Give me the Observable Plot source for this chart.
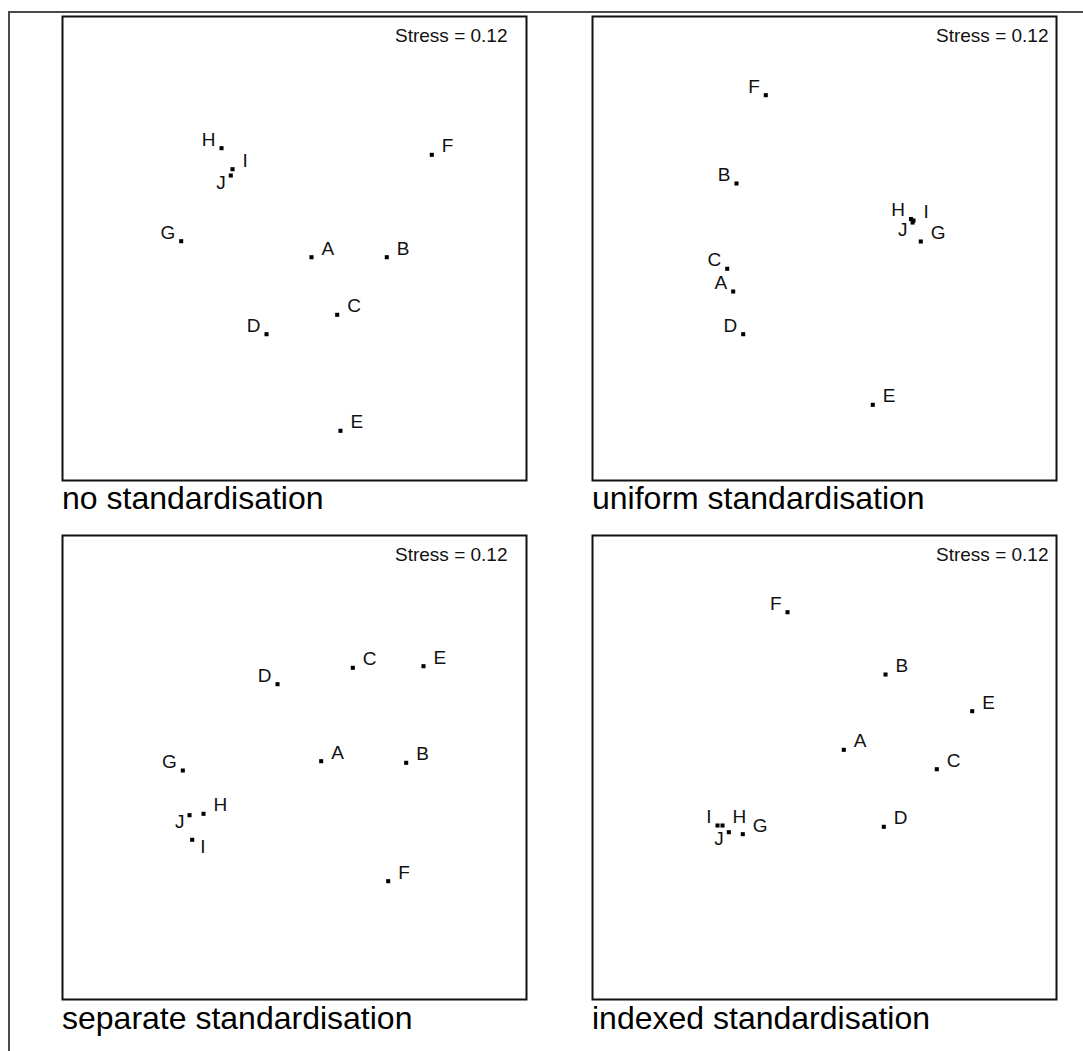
<!DOCTYPE html>
<html>
<head>
<meta charset="utf-8">
<script src="https://cdn.jsdelivr.net/npm/d3@7"></script>
<script src="https://cdn.jsdelivr.net/npm/@observablehq/plot@0.6"></script>
<style>
  html, body { margin: 0; padding: 0; background: #fff; }
  #page { position: relative; width: 1083px; height: 1051px; overflow: hidden; background: #fff;
          font-family: "Liberation Sans", Arial, sans-serif; }
  #outer { position: absolute; left: 8px; top: 11px; right: -10px; bottom: -10px;
           border-top: 2px solid #4a4a4a; border-left: 2px solid #4a4a4a; }
  .panel { position: absolute; }
  .caption { position: absolute; font-size: 32px; line-height: 1; color: #000; white-space: nowrap; }
</style>
</head>
<body>
<div id="page"><div id="outer"></div></div>
<script>
// ---- data (MDS ordination coordinates; 0–100 plot units) ----
const sites = ["A","B","C","D","E","F","G","H","I","J"];

const panelTitles = ["no standardisation", "uniform standardisation", "separate standardisation", "indexed standardisation"];
const stressValues = [0.12, 0.12, 0.12, 0.12];

// no standardisation
const noStdX = [53.66, 69.89, 59.20, 43.97, 59.91, 79.59, 25.58, 34.27, 36.64, 36.27];
const noStdY = [48.12, 48.12, 35.71, 31.53, 10.71, 70.19, 51.57, 71.62, 67.09, 65.73];
const noStdSide = ["ne","ne","ne","nw","ne","ne","nw","nw","ne","sw"];

// uniform standardisation
const uniformX = [30.32, 31.03, 29.03, 32.48, 60.41, 37.35, 70.75, 68.64, 69.18, 68.97];
const uniformY = [40.73, 64.01, 45.63, 31.53, 16.31, 83.04, 51.51, 56.36, 56.03, 55.60];
const uniformSide = ["nw","nw","nw","nw","ne","nw","ne","nw","ne","sw"];

// separate standardisation
const separateX = [55.75, 74.07, 62.57, 46.34, 77.80, 70.19, 25.93, 30.39, 27.95, 27.37];
const separateY = [51.36, 51.01, 71.49, 67.95, 71.83, 25.50, 49.35, 40.02, 34.42, 39.72];
const separateSide = ["ne","ne","ne","nw","ne","ne","nw","ne","se","sw"];

// indexed standardisation
const indexedX = [54.16, 63.15, 74.20, 62.78, 81.83, 42.03, 32.39, 28.02, 26.94, 29.38];
const indexedY = [53.81, 70.04, 49.63, 37.22, 62.13, 83.47, 35.63, 37.50, 37.50, 36.06];
const indexedSide = ["ne","ne","ne","ne","ne","nw","ne","ne","nw","sw"];

// ---- layout ----
const FONT = "'Liberation Sans', Arial, sans-serif";
const SIZE = 464, M = 2;
const panels = [
  {xs: noStdX,    ys: noStdY,    sides: noStdSide,    left: 62,  top: 15.5, stressInset: 19},
  {xs: uniformX,  ys: uniformY,  sides: uniformSide,  left: 592, top: 15.5, stressInset: 8},
  {xs: separateX, ys: separateY, sides: separateSide, left: 62,  top: 535,  stressInset: 19},
  {xs: indexedX,  ys: indexedY,  sides: indexedSide,  left: 592, top: 535,  stressInset: 8}
];

const sideStyle = {
  ne: {textAnchor: "start", dx: 10, dy: -2.5},
  nw: {textAnchor: "end",   dx: -6, dy: -2.5},
  sw: {textAnchor: "end",   dx: -5, dy: 13},
  se: {textAnchor: "start", dx: 8,  dy: 13}
};

const page = document.getElementById("page");

panels.forEach((p, i) => {
  const rows = sites.map((s, j) => ({label: s, x: p.xs[j], y: p.ys[j], side: p.sides[j]}));
  const labelMarks = Object.keys(sideStyle).map(k =>
    Plot.text(rows.filter(d => d.side === k), {
      x: "x", y: "y", text: "label", lineAnchor: "bottom",
      fontSize: 19, fill: "#111", ...sideStyle[k]
    })
  );
  const chart = Plot.plot({
    width: SIZE + 2 * M,
    height: SIZE + 2 * M,
    margin: M,
    style: {fontFamily: FONT, background: "transparent", color: "#000", overflow: "visible"},
    x: {domain: [0, 100], axis: null},
    y: {domain: [0, 100], axis: null},
    marks: [
      Plot.frame({stroke: "#111", strokeWidth: 2}),
      Plot.dot(rows, {x: "x", y: "y", symbol: "square", r: 2.3, fill: "#000", stroke: "none"}),
      ...labelMarks,
      Plot.text([`Stress = ${stressValues[i].toFixed(2)}`], {
        frameAnchor: "top-right", textAnchor: "end", lineAnchor: "bottom",
        dx: -p.stressInset, dy: 25.5, fontSize: 19, fill: "#111"
      })
    ]
  });
  const wrap = document.createElement("div");
  wrap.className = "panel";
  wrap.style.left = (p.left - M) + "px";
  wrap.style.top = (p.top - M) + "px";
  wrap.appendChild(chart);
  page.appendChild(wrap);

  const cap = document.createElement("div");
  cap.className = "caption";
  cap.textContent = panelTitles[i];
  cap.style.left = p.left + "px";
  cap.style.top = (p.top + SIZE + 30 - 0.8465 * 32) + "px";
  page.appendChild(cap);
});
</script>
</body>
</html>
